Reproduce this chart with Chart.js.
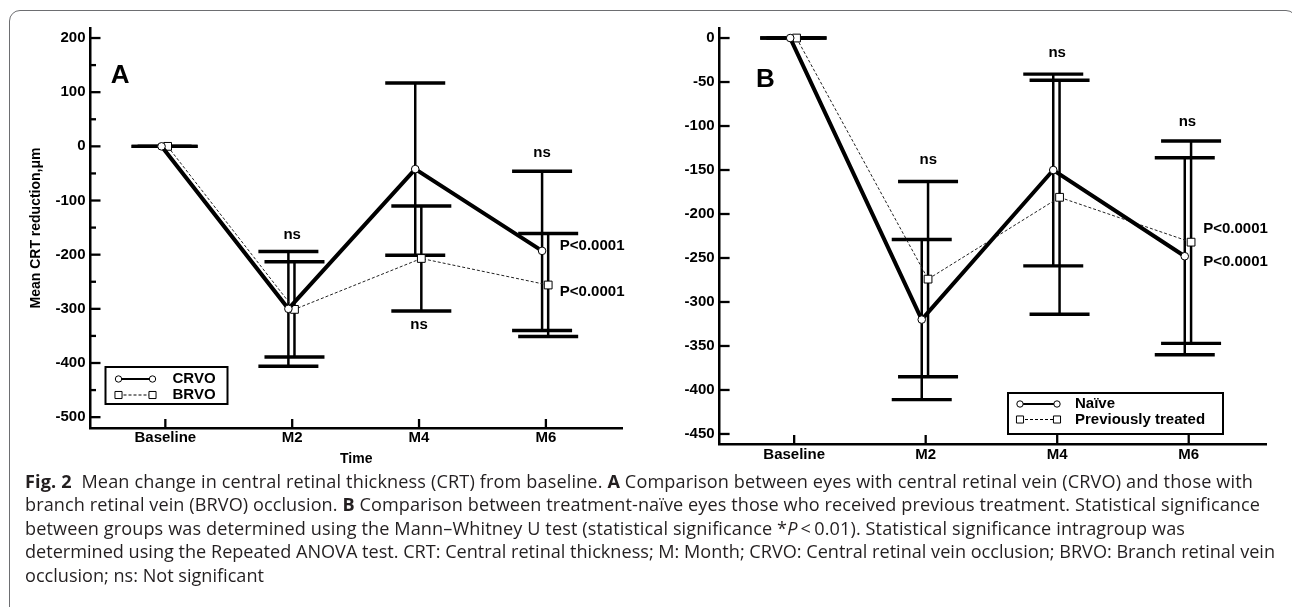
<!doctype html>
<html lang="en">
<head>
<meta charset="utf-8">
<title>Mean change in CRT</title>
<script src="https://cdn.jsdelivr.net/npm/chart.js@4.4.1/dist/chart.umd.min.js"></script>
<style>
    body {
        margin: 0;
        background: #fff;
        width: 1292px;
        height: 607px;
        overflow: hidden;
        position: relative;
    }

    #frame {
        position: absolute;
        left: 9px;
        top: 10px;
        width: 1286px;
        height: 700px;
        border: 1px solid #6d6e71;
        border-radius: 11px;
    }

    #chartA { position: absolute; left: 0; top: 0; }
    #chartB { position: absolute; left: 645px; top: 0; }

    #caption {
        position: absolute;
        left: 25px;
        top: 470px;
        font-family: "Open Sans", sans-serif;
        color: #231f20;
        line-height: 23.4px;
        white-space: nowrap;
    }
</style>
</head>
<body>
<div id="frame"></div>
<canvas id="chartA" width="645" height="480"></canvas>
<canvas id="chartB" width="647" height="480"></canvas>
<div id="caption">
    <div><span class="capLine"><b>Fig. 2</b>&nbsp; Mean change in central retinal thickness (CRT) from baseline. <b>A</b> Comparison between eyes with central retinal vein (CRVO) and those with</span></div>
    <div><span class="capLine">branch retinal vein (BRVO) occlusion. <b>B</b> Comparison between treatment-naïve eyes those who received previous treatment. Statistical significance</span></div>
    <div><span class="capLine">between groups was determined using the Mann–Whitney U test (statistical significance *<i>P</i>&thinsp;&lt;&thinsp;0.01). Statistical significance intragroup was</span></div>
    <div><span class="capLine">determined using the Repeated ANOVA test. CRT: Central retinal thickness; M: Month; CRVO: Central retinal vein occlusion; BRVO: Branch retinal vein</span></div>
    <div><span>occlusion; ns: Not significant</span></div>
</div>

<script>
    var categories = ['Baseline', 'M2', 'M4', 'M6'];

    // panel A: CRVO vs BRVO (mean and error)
    var crvoMean = [0, -300, -42, -193];
    var crvoErr = [0, 106, 159, 147];
    var brvoMean = [0, -301, -207, -256];
    var brvoErr = [0, 88, 97, 95];
    var ticksA = [-500, -400, -300, -200, -100, 0, 100, 200];
    var nsA = [[1, -164], [2, -330], [2.97, -12]];
    var pA = [-184, -268];

    // panel B: naive vs previously treated
    var naiveMean = [0, -320, -150, -248];
    var naiveErr = [0, 91, 109, 112];
    var prevMean = [0, -274, -181, -232];
    var prevErr = [0, 111, 133, 115];
    var ticksB = [0, -50, -100, -150, -200, -250, -300, -350, -400, -450];
    var nsB = [[1.02, -139], [2, -17], [2.99, -95]];
    var pB = [-217, -254];

    Chart.defaults.font.family = '"Liberation Sans", Arial, sans-serif';
    Chart.defaults.font.weight = 'bold';
    Chart.defaults.color = '#000';

    function line(ctx, x1, y1, x2, y2) {
        ctx.beginPath();
        ctx.moveTo(x1, y1);
        ctx.lineTo(x2, y2);
        ctx.stroke();
    }

    function points(mean, shift) {
        return mean.map(function(v, i) {
            return { x: i + shift, y: v };
        });
    }

    var errorBars = {
        id: 'errorBars',
        beforeDatasetsDraw: function(chart, args, opts) {
            var ctx = chart.ctx;
            var xs = chart.scales.x, ys = chart.scales.y;
            ctx.save();
            ctx.strokeStyle = '#000';
            chart.data.datasets.forEach(function(ds) {
                ds.data.forEach(function(p, i) {
                    var e = ds.err[i];
                    var px = xs.getPixelForValue(p.x);
                    var top = ys.getPixelForValue(p.y + e);
                    var bot = ys.getPixelForValue(p.y - e);
                    ctx.lineWidth = 2.5;
                    line(ctx, px, top, px, bot);
                    ctx.lineWidth = 3.4;
                    line(ctx, px - opts.cap, top, px + opts.cap, top);
                    line(ctx, px - opts.cap, bot, px + opts.cap, bot);
                });
            });
            ctx.restore();
        }
    };

    var axisTicks = {
        id: 'axisTicks',
        afterDraw: function(chart, args, opts) {
            var ctx = chart.ctx, a = chart.chartArea;
            var xs = chart.scales.x, ys = chart.scales.y;
            ctx.save();
            ctx.strokeStyle = '#000';
            ctx.lineWidth = 2.3;
            ys.ticks.forEach(function(t, k) {
                var py = ys.getPixelForValue(t.value);
                line(ctx, a.left, py, a.left + opts.len, py);
                if (opts.minor && k < ys.ticks.length - 1) {
                    var my = ys.getPixelForValue((t.value + ys.ticks[k + 1].value) / 2);
                    line(ctx, a.left, my, a.left + opts.minor, my);
                }
            });
            xs.ticks.forEach(function(t) {
                var px = xs.getPixelForValue(t.value);
                line(ctx, px, a.bottom, px, a.bottom - opts.xlen);
            });
            ctx.restore();
        }
    };

    var notes = {
        id: 'notes',
        afterDraw: function(chart, args, opts) {
            var ctx = chart.ctx;
            var xs = chart.scales.x, ys = chart.scales.y;
            ctx.save();
            ctx.fillStyle = '#000';
            ctx.textBaseline = 'middle';
            ctx.font = 'bold 15px "Liberation Sans", Arial, sans-serif';
            ctx.textAlign = 'center';
            opts.ns.forEach(function(n) {
                ctx.fillText('ns', xs.getPixelForValue(n[0]), ys.getPixelForValue(n[1]));
            });
            ctx.textAlign = 'left';
            opts.p.forEach(function(v) {
                ctx.fillText('P<0.0001', xs.getPixelForValue(3.11), ys.getPixelForValue(v));
            });
            ctx.font = 'bold 26px "Liberation Sans", Arial, sans-serif';
            ctx.fillText(opts.letter[0], xs.getPixelForValue(opts.letter[1]), ys.getPixelForValue(opts.letter[2]));
            ctx.restore();
        }
    };

    var boxLegend = {
        id: 'boxLegend',
        afterDraw: function(chart, args, o) {
            var ctx = chart.ctx, a = chart.chartArea;
            var bx = a.left + o.left;
            var by = a.bottom - o.bottom - o.height;
            ctx.save();
            ctx.strokeStyle = '#000';
            ctx.lineWidth = 2;
            ctx.strokeRect(bx, by, o.width, o.height);
            ctx.font = 'bold 15px "Liberation Sans", Arial, sans-serif';
            ctx.textBaseline = 'middle';
            ctx.fillStyle = '#000';
            chart.data.datasets.forEach(function(ds, k) {
                var ry = by + o.first + k * o.gap;
                var x1 = bx + o.sample, x2 = x1 + o.sampleWidth;
                ctx.lineWidth = ds.borderDash ? 1 : 2;
                ctx.setLineDash(ds.borderDash || []);
                line(ctx, x1, ry, x2, ry);
                ctx.setLineDash([]);
                ctx.fillStyle = '#fff';
                ctx.lineWidth = 1;
                [x1, x2].forEach(function(px) {
                    Chart.helpers.drawPoint(ctx, { pointStyle: ds.pointStyle, radius: ds.pointStyle === 'rect' ? 5 : 3.2, borderWidth: 1, rotation: 0 }, px, ry);
                });
                ctx.fillStyle = '#000';
                ctx.fillText(ds.label, bx + o.text, ry);
            });
            ctx.restore();
        }
    };

    function solidSet(label, mean, err) {
        return {
            label: label,
            data: points(mean, -0.03),
            err: err,
            borderColor: '#000',
            borderWidth: 4,
            pointStyle: 'circle',
            pointRadius: 3.8,
            pointBackgroundColor: '#fff',
            pointBorderColor: '#000',
            pointBorderWidth: 1,
            tension: 0
        };
    }

    function dashSet(label, mean, err) {
        return {
            label: label,
            data: points(mean, 0.018),
            err: err,
            borderColor: '#222',
            borderWidth: 1,
            borderDash: [3, 2],
            pointStyle: 'rect',
            pointRadius: 5.5,
            pointBackgroundColor: '#fff',
            pointBorderColor: '#000',
            pointBorderWidth: 1,
            tension: 0
        };
    }

    function makeChart(id, sets, cfg) {
        return new Chart(document.getElementById(id), {
            type: 'line',
            data: { datasets: sets },
            options: {
                responsive: false,
                animation: false,
                layout: { padding: { left: 0, right: cfg.padRight, top: 28, bottom: 0 } },
                plugins: {
                    legend: { display: false },
                    tooltip: { enabled: false },
                    errorBars: { cap: cfg.cap },
                    axisTicks: { len: 10, minor: cfg.minor, xlen: 9 },
                    notes: cfg.notes,
                    boxLegend: cfg.legend
                },
                scales: {
                    x: {
                        type: 'linear',
                        min: cfg.xmin,
                        max: cfg.xmax,
                        afterBuildTicks: function(s) {
                            s.ticks = categories.map(function(c, i) { return { value: i }; });
                        },
                        afterFit: function(s) { s.height = cfg.xHeight; },
                        grid: { display: false, drawTicks: false },
                        border: { display: true, color: '#000', width: 2.5 },
                        ticks: {
                            padding: cfg.xPad,
                            font: { size: 15, weight: 'bold' },
                            callback: function(v) { return categories[v]; }
                        },
                        title: cfg.xTitle
                    },
                    y: {
                        type: 'linear',
                        min: cfg.ymin,
                        max: cfg.ymax,
                        afterBuildTicks: function(s) {
                            s.ticks = cfg.ticks.map(function(v) { return { value: v }; });
                        },
                        afterFit: function(s) { s.width = cfg.yWidth; },
                        grid: { display: false, drawTicks: false },
                        border: { display: true, color: '#000', width: 2.5 },
                        ticks: {
                            padding: 5,
                            font: { size: 15, weight: 'bold' },
                            callback: function(v) { return String(v); }
                        },
                        title: cfg.yTitle
                    }
                }
            },
            plugins: [errorBars, axisTicks, notes, boxLegend]
        });
    }

    makeChart('chartA', [solidSet('CRVO', crvoMean, crvoErr), dashSet('BRVO', brvoMean, brvoErr)], {
        padRight: 23, cap: 30, minor: 5.5,
        xmin: -0.59, xmax: 3.6, ymin: -520, ymax: 218.5,
        xHeight: 52, yWidth: 90.5, xPad: 1, ticks: ticksA,
        xTitle: { display: true, text: 'Time', font: { size: 14, weight: 'bold' }, padding: { top: 0, bottom: 12.6 } },
        yTitle: { display: true, text: 'Mean CRT reduction,\u03bcm', font: { size: 14, weight: 'bold' }, padding: { top: 27.6, bottom: 0 } },
        notes: { ns: nsA, p: pA, letter: ['A', -0.43, 130] },
        legend: { left: 15, bottom: 24, width: 122, height: 37, first: 12, gap: 16, sample: 13, sampleWidth: 34, text: 67 }
    });

    makeChart('chartB', [solidSet('Naïve', naiveMean, naiveErr), dashSet('Previously treated', prevMean, prevErr)], {
        padRight: 25.7, cap: 30, minor: 0,
        xmin: -0.567, xmax: 3.59, ymin: -461.4, ymax: 11.4,
        xHeight: 36, yWidth: 74.6, xPad: 2, ticks: ticksB,
        xTitle: { display: false },
        yTitle: { display: false },
        notes: { ns: nsB, p: pB, letter: ['B', -0.29, -48] },
        legend: { left: 288.4, bottom: 10, width: 215, height: 41, first: 11, gap: 15.5, sample: 12, sampleWidth: 37, text: 67 }
    });

    // caption: size from the longest line, then letter-spacing so each line ends where the reference does
    var capWidths = [1228, 1235, 1160, 1250];
    var cap = document.getElementById('caption');
    var capLines = document.querySelectorAll('.capLine');
    cap.style.fontSize = '16px';
    var w4 = capLines[3].getBoundingClientRect().width;
    cap.style.fontSize = (16 * capWidths[3] / w4).toFixed(2) + 'px';
    capLines.forEach(function(el, i) {
        var w = el.getBoundingClientRect().width;
        var n = el.textContent.length;
        el.style.letterSpacing = ((capWidths[i] - w) / n).toFixed(3) + 'px';
    });
</script>
</body>
</html>
